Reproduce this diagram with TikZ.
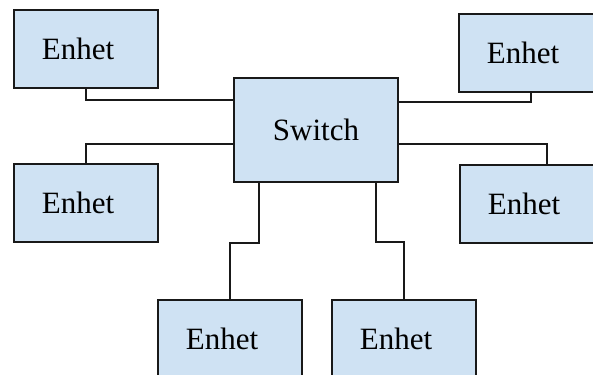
\documentclass[tikz,border=0pt]{standalone}
\usepackage{fontspec}
\setmainfont{Liberation Serif}
\usetikzlibrary{positioning}
\definecolor{boxblue}{HTML}{CFE2F3}
\tikzstyle{box} = [rectangle, draw=black!90, fill=boxblue, line width=1.6pt, text centered, font=\fontsize{31}{37}\selectfont]
\tikzstyle{enhet} = [box, minimum width=144pt, minimum height=78pt, execute at begin node={\hspace*{-16pt}}]
\tikzstyle{switchbox} = [box, minimum width=164pt, minimum height=104pt]
\tikzstyle{wire} = [line width=1.6pt, draw=black!90]

\begin{document}
\begin{tikzpicture}[x=1pt, y=-1pt]
		\useasboundingbox (0,0) rectangle (593,374);
		\clip (0,0) rectangle (593,374);
		\node (sw) [switchbox] at (316,130) {Switch};
		\node (e1) [enhet] at (86,49) {Enhet};
		\node (e2) [enhet] at (531,53) {Enhet};
		\node (e3) [enhet] at (86,203) {Enhet};
		\node (e4) [enhet] at (532,204) {Enhet};
		\node (e5) [enhet] at (230,339) {Enhet};
		\node (e6) [enhet] at (404,339) {Enhet};
		\draw [wire] (e1.south) |- ([yshift=30pt]sw.west);
		\draw [wire] (e2.south) |- ([yshift=28pt]sw.east);
		\draw [wire] (e3.north) |- ([yshift=-14pt]sw.west);
		\draw [wire] ([xshift=15pt]e4.north) |- ([yshift=-14pt]sw.east);
		\draw [wire] ([xshift=-57pt]sw.south) -- ++(0,60) -| (e5.north);
		\draw [wire] ([xshift=60pt]sw.south) -- ++(0,59) -| (e6.north);
	\end{tikzpicture}
\end{document}
